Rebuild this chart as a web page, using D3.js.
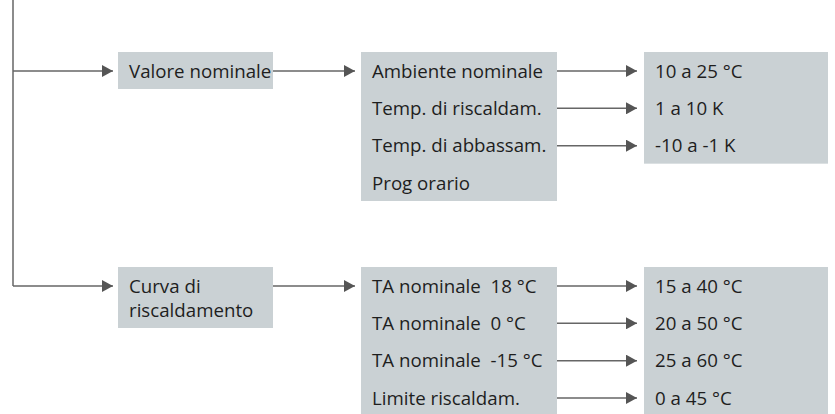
<!DOCTYPE html>
<html>
<head>
<meta charset="utf-8">
<script src="https://cdn.jsdelivr.net/npm/d3@7"></script>
<style>
  body { margin: 0; background: #fff; }
  #chart { width: 835px; height: 414px; }
  text { font-family: "Open Sans", Lato, sans-serif; font-size: 18.7px; fill: #1e1e1e; }
</style>
</head>
<body>
<div id="chart"></div>
<script>
// menu tree, level by level
var level1 = [["Valore nominale"], ["Curva di", "riscaldamento"]];
var level2 = [
  ["Ambiente nominale", "Temp. di riscaldam.", "Temp. di abbassam.", "Prog orario"],
  ["TA nominale\u00a0 18 °C", "TA nominale\u00a0 0 °C", "TA nominale\u00a0 -15 °C", "Limite riscaldam."]
];
var level3 = [
  ["10 a 25 °C", "1 a 10 K", "-10 a -1 K"],
  ["15 a 40 °C", "20 a 50 °C", "25 a 60 °C", "0 a 45 °C"]
];

var width = 835, height = 414;
var boxFill = "#cad1d4", lineCol = "#666";

// columns: box left edge, box right edge
var colX = d3.scaleOrdinal().domain([0, 1, 2]).range([118, 361, 644]);
var colR = d3.scaleOrdinal().domain([0, 1, 2]).range([273, 557, 828]);
var groupY = d3.scaleOrdinal().domain([0, 1]).range([71, 286]);
var rowY = d3.scaleLinear().domain([0, 3]).range([0, 112]);

var padTop = 19, padBot = 18, textPad = 11, lineH = 24, base = 6.5;

var svg = d3.select("#chart").append("svg")
  .attr("width", width)
  .attr("height", height);

svg.append("defs").append("marker")
  .attr("id", "arrow")
  .attr("viewBox", "0 0 11 12")
  .attr("refX", 11)
  .attr("refY", 6)
  .attr("markerWidth", 11)
  .attr("markerHeight", 12)
  .attr("markerUnits", "userSpaceOnUse")
  .attr("orient", "auto")
  .append("path")
  .attr("d", "M0,0 L11,6 L0,12 Z")
  .attr("fill", "#555");

var g = svg.append("g");

// trunk line on the left
g.append("line")
  .attr("x1", 13).attr("y1", 0)
  .attr("x2", 13).attr("y2", groupY(1))
  .attr("stroke", lineCol).attr("stroke-width", 1.5);

level1.forEach(function(lines, gi) {
  var y0 = groupY(gi);

  // level 1 box
  g.append("rect")
    .attr("x", colX(0))
    .attr("y", y0 - padTop)
    .attr("width", colR(0) - colX(0))
    .attr("height", padTop + padBot + lineH * (lines.length - 1))
    .attr("fill", boxFill);

  g.selectAll(null).data(lines).enter().append("text")
    .attr("x", colX(0) + textPad)
    .attr("y", function(d, i) { return y0 + base + i * lineH; })
    .text(function(d) { return d; });

  // trunk -> level 1
  g.append("line")
    .attr("x1", 13).attr("y1", y0)
    .attr("x2", colX(0) - 5).attr("y2", y0)
    .attr("stroke", lineCol).attr("stroke-width", 1.5)
    .attr("marker-end", "url(#arrow)");

  // level 1 -> level 2
  g.append("line")
    .attr("x1", colR(0)).attr("y1", y0)
    .attr("x2", colX(1) - 6).attr("y2", y0)
    .attr("stroke", lineCol).attr("stroke-width", 1.5)
    .attr("marker-end", "url(#arrow)");

  // level 2 box
  var items2 = level2[gi];
  g.append("rect")
    .attr("x", colX(1))
    .attr("y", y0 - padTop)
    .attr("width", colR(1) - colX(1))
    .attr("height", padTop + padBot + rowY(items2.length - 1))
    .attr("fill", boxFill);

  g.selectAll(null).data(items2).enter().append("text")
    .attr("x", colX(1) + textPad)
    .attr("y", function(d, i) { return y0 + rowY(i) + base; })
    .text(function(d) { return d; });

  // level 3 box
  var items3 = level3[gi];
  g.append("rect")
    .attr("x", colX(2))
    .attr("y", y0 - padTop)
    .attr("width", colR(2) - colX(2))
    .attr("height", padTop + padBot + rowY(items3.length - 1))
    .attr("fill", boxFill);

  g.selectAll(null).data(items3).enter().append("text")
    .attr("x", colX(2) + textPad)
    .attr("y", function(d, i) { return y0 + rowY(i) + base; })
    .text(function(d) { return d; });

  // level 2 -> level 3
  g.selectAll(null).data(items3).enter().append("line")
    .attr("x1", colR(1))
    .attr("y1", function(d, i) { return y0 + rowY(i); })
    .attr("x2", colX(2) - 7)
    .attr("y2", function(d, i) { return y0 + rowY(i); })
    .attr("stroke", lineCol).attr("stroke-width", 1.5)
    .attr("marker-end", "url(#arrow)");
});
</script>
</body>
</html>
